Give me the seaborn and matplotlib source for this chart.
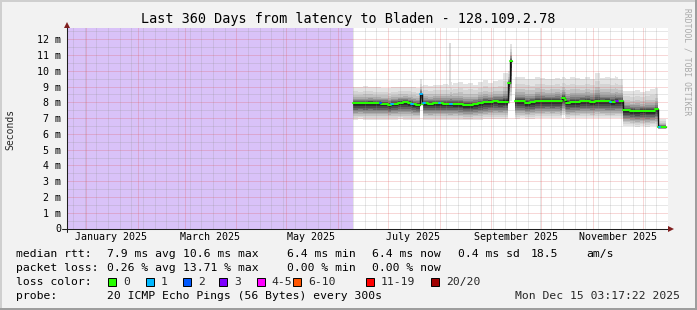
import matplotlib
matplotlib.use("Agg")
import numpy as np
import pandas as pd
import matplotlib.pyplot as plt
import matplotlib.dates as mdates
import seaborn as sns
from matplotlib.patches import Rectangle
from matplotlib.lines import Line2D
from matplotlib.ticker import MultipleLocator, FuncFormatter
from matplotlib.transforms import blended_transform_factory

sns.set_theme(style="white")
plt.rcParams["font.family"] = ["DejaVu Sans Mono", "DejaVu Sans"]

# ---------------- data ----------------
TITLE = "Last 360 Days from latency to Bladen - 128.109.2.78"
RANGE_START = "2024-12-20 03:17:22"
RANGE_END = "2025-12-15 03:17:22"
UNKNOWN_UNTIL = "2025-06-10 03:17"
DATA_END = "2025-12-14 18:00"

seg_start = [
    "2025-06-10 03:17", "2025-06-13", "2025-06-16", "2025-06-19", "2025-06-22",
    "2025-06-26", "2025-06-27", "2025-07-01", "2025-07-03", "2025-07-04",
    "2025-07-07", "2025-07-10", "2025-07-13", "2025-07-15", "2025-07-16",
    "2025-07-18", "2025-07-20 06:00", "2025-07-21 12:00", "2025-07-22 06:00", "2025-07-23",
    "2025-07-25", "2025-07-28", "2025-07-31 12:00", "2025-08-01 12:00", "2025-08-03",
    "2025-08-06", "2025-08-07 12:00", "2025-08-08 06:00", "2025-08-09", "2025-08-12",
    "2025-08-15", "2025-08-18", "2025-08-21", "2025-08-24", "2025-08-27",
    "2025-08-30", "2025-09-02", "2025-09-05", "2025-09-08", "2025-09-11",
    "2025-09-12", "2025-09-13 12:00", "2025-09-15 06:00", "2025-09-18", "2025-09-21",
    "2025-09-24", "2025-09-27", "2025-09-30", "2025-10-03", "2025-10-06",
    "2025-10-09", "2025-10-12", "2025-10-13 12:00", "2025-10-15", "2025-10-16",
    "2025-10-18", "2025-10-21", "2025-10-24", "2025-10-27", "2025-10-30",
    "2025-11-02", "2025-11-05", "2025-11-08", "2025-11-11", "2025-11-12",
    "2025-11-14", "2025-11-15", "2025-11-16", "2025-11-19", "2025-11-23",
    "2025-11-26", "2025-11-29", "2025-12-02", "2025-12-05", "2025-12-08",
    "2025-12-10", "2025-12-10 18:00", "2025-12-11 12:00",
]
median_ms = [
    7.94, 7.94, 7.93, 7.98, 7.94,
    7.94, 7.92, 7.85, 7.92, 7.92,
    7.98, 8.00, 7.98, 7.92, 7.90,
    7.85, 8.50, 7.92, 7.94, 7.94,
    7.92, 7.94, 7.94, 7.93, 7.92,
    7.92, 7.92, 7.92, 7.90, 7.90,
    7.84, 7.84, 7.88, 7.93, 8.00,
    8.02, 8.06, 8.04, 8.05, 9.20,
    10.60, np.nan, 8.06, 8.06, 7.97,
    8.00, 8.08, 8.08, 8.10, 8.08,
    8.10, 8.06, 8.29, 8.14, 7.98,
    8.00, 8.03, 8.06, 8.06, 8.04,
    8.08, 8.06, 8.06, 8.04, 8.04,
    8.06, 8.06, 8.06, 7.50, 7.45,
    7.43, 7.46, 7.45, 7.45, 7.55,
    6.45, 6.45, 6.43,
]
smoke_max = [
    9.00, 8.97, 9.03, 8.98, 8.95,
    8.95, 8.92, 8.92, 8.95, 8.95,
    9.00, 8.98, 8.97, 8.95, 8.95,
    8.92, 9.45, 9.05, 9.10, 9.10,
    9.05, 9.12, 9.08, 9.10, 9.15,
    9.12, 9.30, 9.12, 9.20, 9.30,
    9.15, 9.20, 9.12, 9.30, 9.40,
    9.25, 9.35, 9.40, 9.85, 10.00,
    11.70, np.nan, 9.60, 9.60, 9.50,
    9.45, 9.62, 9.55, 9.45, 9.50,
    9.55, 9.45, 9.60, 9.55, 9.50,
    9.60, 9.55, 9.50, 9.62, 9.48,
    9.85, 9.55, 9.60, 9.55, 9.55,
    9.70, 9.60, 9.50, 8.75, 8.70,
    8.80, 8.65, 8.75, 8.85, 8.90,
    6.95, 6.95, 6.95,
]
smoke_min = [
    6.90, 6.92, 6.90, 6.88, 6.90,
    6.90, 6.90, 6.88, 6.90, 6.90,
    6.92, 6.90, 6.90, 6.90, 6.88,
    6.88, 7.80, 7.85, 6.90, 6.90,
    6.88, 6.90, 6.90, 6.90, 6.90,
    6.88, 6.88, 6.88, 6.90, 6.88,
    6.85, 6.85, 6.88, 6.90, 6.92,
    6.95, 6.95, 6.95, 6.95, 7.90,
    8.10, np.nan, 6.95, 6.98, 6.95,
    6.95, 6.98, 6.98, 7.00, 6.98,
    7.00, 6.98, 7.20, 7.00, 6.95,
    6.98, 6.98, 7.00, 7.00, 6.98,
    7.00, 7.00, 6.98, 6.98, 6.98,
    7.00, 7.00, 7.00, 6.50, 6.48,
    6.45, 6.48, 6.45, 6.48, 6.50,
    6.30, 6.30, 6.30,
]
loss_count = [
    0, 0, 0, 0, 0,
    2, 0, 0, 1, 0,
    0, 0, 0, 1, 0,
    0, 1, 0, 1, 0,
    0, 0, 1, 0, 0,
    0, 1, 0, 0, 0,
    0, 0, 0, 0, 0,
    0, 0, 0, 0, 0,
    0, 0, 0, 0, 0,
    0, 0, 0, 0, 0,
    0, 0, 0, 0, 0,
    0, 0, 0, 0, 0,
    0, 0, 0, 1, 0,
    0, 3, 0, 0, 0,
    0, 0, 0, 0, 0,
    0, 1, 0,
]
outlier_start = ["2025-08-06 14:00"]
outlier_end = ["2025-08-07 20:00"]
outlier_ms = [11.75]

x_label_text = ["January 2025", "March 2025", "May 2025",
                "July 2025", "September 2025", "November 2025"]
x_label_dates = ["2025-01-16", "2025-03-16", "2025-05-16",
                 "2025-07-16", "2025-09-16", "2025-11-16"]

loss_labels = ["0", "1", "2", "3", "4-5", "6-10", "11-19", "20/20"]
loss_colors = ["#26ff00", "#00b8ff", "#0059ff", "#7e00ff",
               "#ff00ff", "#ff5500", "#ff0000", "#a00000"]
loss_upper = [0, 1, 2, 3, 5, 10, 19, 20]

rtt_stats = ["7.9 ms avg", "10.6 ms max", "6.4 ms min", "6.4 ms now",
             "0.4 ms sd", "18.5", "am/s"]
loss_stats = ["0.26 % avg", "13.71 % max", "0.00 % min", "0.00 % now"]
probe_text = "20 ICMP Echo Pings (56 Bytes) every 300s"
stamp_text = "Mon Dec 15 03:17:22 2025"

# ---------------- layout helpers ----------------
W, H = 697, 310
def fx(x): return x / W
def fy(y): return 1 - y / H
def dnum(s): return mdates.date2num(pd.to_datetime(s, format="ISO8601"))

fig = plt.figure(figsize=(W / 100, H / 100), dpi=100)
fig.patch.set_facecolor("#f2f2f2")

ax_l, ax_r, ax_t, ax_b = 66.5, 668.0, 28.0, 228.5
ax = fig.add_axes([fx(ax_l), fy(ax_b), (ax_r - ax_l) / W, (ax_b - ax_t) / H])
ax.set_facecolor("white")
ax.xaxis_date()

t0 = dnum(RANGE_START)
t1 = dnum(RANGE_END)
day_per_px = (t1 - t0) / 600.0
ax.set_xlim(t0, t0 + day_per_px * (ax_r - ax_l))
ax.set_ylim(0, (ax_b - ax_t) / 15.77)

# unknown (purple) region
ax.axvspan(t0, dnum(UNKNOWN_UNTIL), facecolor="#d9c2f8", lw=0, zorder=0.5)

# step-expanded series
starts = np.asarray(dnum(seg_start), float)
ends = np.append(starts[1:], dnum(DATA_END))
xs = np.empty(2 * len(starts))
xs[0::2] = starts
xs[1::2] = ends
def expand(v):
    return np.repeat(np.asarray(v, dtype=float), 2)

med = np.asarray(median_ms, float)
mx = np.asarray(smoke_max, float)
mn = np.asarray(smoke_min, float)

# smoke: nested gray bands (darker toward the median)
up_frac = [1.00, 0.72, 0.52, 0.38, 0.28, 0.20, 0.13, 0.08, 0.04]
lo_frac = [1.00, 0.88, 0.77, 0.67, 0.57, 0.48, 0.38, 0.28, 0.17]
grays = [0.89, 0.83, 0.76, 0.68, 0.59, 0.49, 0.39, 0.29, 0.19]
for u, l, g in zip(up_frac, lo_frac, grays):
    hi = med + u * (mx - med)
    lo = med - l * (med - mn)
    ax.fill_between(xs, expand(lo), expand(hi), color=(g, g, g),
                    lw=0, zorder=1, antialiased=False)

# outlier ping columns
for s, e, v in zip(outlier_start, outlier_end, outlier_ms):
    ax.fill_between([dnum(s), dnum(e)], [8.9, 8.9], [v, v],
                    color=(0.86, 0.86, 0.86), lw=0, zorder=1)

# dark step connectors under the median
vals = expand(med)
ax.plot(xs, vals, color="#151515", lw=1.0, zorder=2.8)

# median line coloured by loss (seaborn, one unit per segment)
def loss_cat(n):
    for ub, lab in zip(loss_upper, loss_labels):
        if n <= ub:
            return lab
    return loss_labels[-1]
rows = []
for i in range(len(starts)):
    if np.isnan(med[i]):
        continue
    c = loss_cat(loss_count[i])
    rows.append((starts[i], med[i], i, c))
    rows.append((ends[i], med[i], i, c))
seg_df = pd.DataFrame(rows, columns=["t", "ms", "seg", "loss"])
sns.lineplot(data=seg_df, x="t", y="ms", units="seg", hue="loss",
             palette=dict(zip(loss_labels, loss_colors)), estimator=None,
             sort=False, legend=False, lw=1.45, ax=ax, zorder=3)

# grid
ax.xaxis.set_major_locator(mdates.MonthLocator())
ax.xaxis.set_minor_locator(mdates.WeekdayLocator(byweekday=mdates.TU))
ax.yaxis.set_major_locator(MultipleLocator(1))
ax.yaxis.set_minor_locator(MultipleLocator(0.5))
ax.set_axisbelow(False)
ax.grid(which="major", color=(0.87, 0.31, 0.31), alpha=0.45, lw=0.72, ls=(0, (1, 1)))
ax.grid(which="minor", color=(0.56, 0.56, 0.56), alpha=0.42, lw=0.72, ls=(0, (1, 1)))

ax.yaxis.set_major_formatter(FuncFormatter(lambda v, p: "0" if v == 0 else f"{int(round(v))} m"))
ax.tick_params(axis="y", which="both", direction="inout", length=2.9, width=0.72,
               color="#1f1f1f", labelsize=7.2, pad=2.6, labelcolor="black")
ax.tick_params(axis="x", which="major", direction="inout", length=2.9, width=0.72,
               color="#1f1f1f", labelbottom=False)
ax.tick_params(axis="x", which="minor", length=0, labelbottom=False)
ax.set_xlabel("")
ax.set_ylabel("")
for s in ax.spines.values():
    s.set_visible(False)

# x labels centred mid-month
trans = blended_transform_factory(ax.transData, ax.transAxes)
for d, txt in zip(x_label_dates, x_label_text):
    ax.text(dnum(d), -8.7 / (ax_b - ax_t), txt,
            transform=trans, ha="center", va="center", fontsize=7.2, color="black")

# axes lines and arrows
axis_col = "#1f1f1f"
arrow_col = (0.5, 0.12, 0.12)
fig.add_artist(Line2D([fx(62), fx(669)], [fy(ax_b), fy(ax_b)], color=axis_col, lw=0.75))
fig.add_artist(Line2D([fx(ax_l), fx(ax_l)], [fy(232), fy(25)], color=axis_col, lw=0.75))
fig.add_artist(Line2D([fx(670.5)], [fy(ax_b)], marker=">", ms=4.2, mew=0, color=arrow_col))
fig.add_artist(Line2D([fx(ax_l)], [fy(24.5)], marker="^", ms=4.2, mew=0, color=arrow_col))

# frame border
fig.add_artist(Rectangle((0, fy(2)), 1, 2 / H, transform=fig.transFigure, color="#cfcfcf", lw=0))
fig.add_artist(Rectangle((0, 0), 2 / W, 1, transform=fig.transFigure, color="#cfcfcf", lw=0))
fig.add_artist(Rectangle((0, 0), 1, 2 / H, transform=fig.transFigure, color="#9e9e9e", lw=0))
fig.add_artist(Rectangle((fx(695), 0), 2 / W, 1, transform=fig.transFigure, color="#9e9e9e", lw=0))

# texts
fig.text(fx(348), fy(19), TITLE, ha="center", va="center", fontsize=9.75, color="black")
fig.text(fx(10.5), fy(129), "Seconds", rotation=90, ha="center", va="center", fontsize=7.0)
fig.text(fx(686.5), fy(62), "RRDTOOL / TOBI OETIKER", rotation=270, ha="center",
         va="center", fontsize=5.8, color="#a9a9a9")

LS = 8.2
def row(y, items):
    for x, t in items:
        fig.text(fx(x), fy(y), t, ha="left", va="center", fontsize=LS, color="black")

row(254, [(16, "median rtt:")] + list(zip([107, 182.7, 286.7, 372.3, 458.3, 531, 586], rtt_stats)))
row(268, [(16, "packet loss:")] + list(zip([107, 182.7, 286.7, 372.3], loss_stats)))
row(282, [(16, "loss color:")])
box_x = [108.3, 145.7, 182.7, 219.3, 256.7, 293.3, 365.7, 430.7]
for bx, lab, col in zip(box_x, loss_labels, loss_colors):
    fig.add_artist(Rectangle((fx(bx), fy(286)), 8 / W, 8 / H, transform=fig.transFigure,
                             facecolor=col, edgecolor="black", lw=0.7))
    fig.text(fx(bx + 15), fy(282), lab, ha="left", va="center", fontsize=LS)
row(296, [(16, "probe:"), (107, probe_text)])
fig.text(fx(680), fy(296), stamp_text, ha="right", va="center", fontsize=LS)

fig.savefig("out.png", dpi=100, facecolor=fig.get_facecolor())
